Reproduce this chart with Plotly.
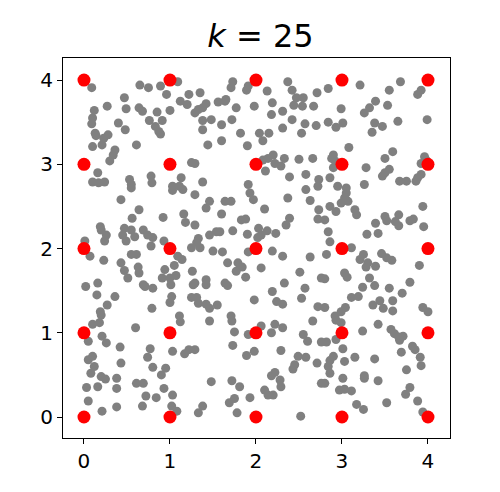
import plotly.graph_objects as go

# gray sample points
gray_x = [0.09,0.65,0.75,0.89,1.09,0.47,0.96,1.22,0.27,0.49,0.64,0.68,0.85,1.00,1.12,1.20,0.12,0.10,0.09,0.40,
          0.48,0.76,0.91,0.83,0.87,0.89,0.13,0.14,0.28,0.23,0.21,0.10,0.61,0.36,0.34,0.30,1.25,0.16,0.10,0.17,
          0.24,0.53,0.55,0.78,0.79,1.13,1.03,1.11,
          1.73,1.71,1.91,1.89,2.37,2.42,1.35,2.13,2.71,2.47,2.55,1.56,1.64,1.65,1.42,1.38,1.33,1.29,1.77,1.98,
          2.19,2.44,2.54,2.67,2.31,2.18,1.38,1.48,1.38,1.60,1.72,2.42,2.57,2.53,2.70,2.31,1.82,2.04,2.15,2.08,
          1.60,1.44,1.90,2.20,2.14,2.22,2.29,2.33,2.08,2.11,2.50,2.66,1.29,2.39,2.58,2.73,2.72,1.38,1.91,
          2.84,3.21,3.68,3.55,3.92,3.88,3.39,3.32,3.26,3.53,2.99,2.84,2.93,3.01,3.38,3.47,3.35,3.65,3.99,3.08,
          3.59,3.50,2.90,2.88,2.92,2.90,3.28,3.96,3.92,3.98,3.55,3.50,3.47,3.92,3.88,2.86,3.67,3.75,3.86,2.95,
          3.05,3.26,
          0.55,1.03,1.15,0.43,0.64,0.56,0.92,1.16,1.18,0.19,0.20,0.26,0.24,0.47,0.55,0.45,0.49,0.59,0.69,0.74,
          0.80,0.78,0.93,0.01,0.07,0.23,0.55,0.61,0.43,0.47,0.63,0.64,0.51,0.69,0.71,0.80,1.09,1.14,1.05,0.94,
          0.91,1.00,1.07,1.01,1.25,1.26,1.27,0.02,0.16,0.15,0.36,0.27,0.19,0.20,0.79,1.02,1.00,1.25,1.11,
          1.29,1.93,1.97,2.37,2.58,2.63,1.46,1.42,1.64,1.71,1.60,2.10,2.73,1.83,1.88,2.39,2.35,2.72,1.29,1.73,
          1.58,1.54,1.90,2.03,2.13,2.23,2.06,2.02,1.46,1.33,1.31,1.35,1.91,2.19,2.31,1.50,1.61,2.63,1.67,1.79,
          1.84,1.77,1.88,2.06,2.51,2.76,1.42,1.42,1.29,1.64,1.67,2.33,2.19,2.57,2.53,1.98,2.24,2.31,2.72,1.31,
          1.33,1.42,1.46,1.55,1.71,
          3.05,3.07,2.99,3.03,2.86,2.93,3.15,3.17,2.80,3.50,3.52,3.66,3.62,3.66,3.79,3.83,3.94,3.95,3.39,3.42,
          3.29,2.84,2.86,3.11,2.82,3.25,3.21,3.30,3.28,3.46,3.52,3.58,3.39,3.90,3.03,3.06,2.80,3.32,3.38,3.24,
          3.79,3.55,3.70,3.11,3.19,3.44,3.36,3.48,3.59,3.59,3.04,2.99,2.92,2.80,3.94,4.00,
          0.10,0.18,0.60,1.12,0.05,0.21,0.26,0.42,0.77,0.74,1.03,1.17,1.22,0.10,0.05,0.43,0.12,0.08,0.80,0.95,
          0.90,0.20,0.25,0.38,0.61,0.69,0.03,0.16,0.38,0.93,0.72,0.84,1.03,0.05,0.68,0.21,0.38,1.02,1.08,
          1.46,1.72,2.06,2.22,2.31,2.66,1.75,1.91,2.18,2.55,2.60,2.76,1.29,1.73,1.98,1.89,2.29,2.49,2.45,2.43,
          2.58,2.71,2.22,2.18,2.28,2.29,1.48,1.72,1.81,2.10,2.14,2.20,1.93,1.75,1.69,1.38,1.33,1.78,2.52,2.76,
          2.93,2.99,3.42,3.24,3.57,3.61,3.66,3.71,3.67,2.82,2.93,3.01,3.82,3.85,3.69,2.90,2.86,2.84,2.86,3.03,
          3.15,3.38,3.91,3.92,3.75,3.26,3.26,3.01,3.42,2.80,3.79,3.74,2.97,3.03,3.11,3.17,3.25,3.52,3.88,3.94]
gray_y = [3.91,3.94,3.91,3.93,3.98,3.79,3.83,3.83,3.69,3.66,3.67,3.63,3.62,3.64,3.75,3.71,3.64,3.55,3.48,3.49,
          3.41,3.52,3.52,3.45,3.39,3.36,3.37,3.34,3.35,3.31,3.23,3.21,3.23,3.17,3.11,3.04,3.02,2.90,2.79,2.78,
          2.79,2.82,2.76,2.86,2.78,2.84,2.74,2.74,
          3.98,3.91,3.93,3.88,3.98,3.88,3.85,3.87,3.85,3.79,3.79,3.74,3.75,3.77,3.72,3.67,3.65,3.61,3.67,3.69,
          3.73,3.70,3.69,3.69,3.63,3.59,3.52,3.53,3.41,3.47,3.53,3.53,3.48,3.37,3.46,3.43,3.37,3.37,3.37,3.28,
          3.28,3.23,3.22,3.11,3.07,3.01,2.98,3.07,3.05,2.92,3.06,3.07,3.01,2.85,2.88,2.82,2.74,2.79,2.76,
          3.90,3.94,3.98,3.88,3.88,3.83,3.75,3.67,3.61,3.70,3.66,3.50,3.44,3.49,3.49,3.45,3.38,3.51,3.53,3.20,
          3.15,3.07,3.11,3.07,3.04,2.96,2.96,3.09,3.01,3.05,2.94,2.90,2.86,2.88,2.84,2.84,2.80,2.80,2.80,2.74,
          2.72,2.76,
          2.72,2.69,2.70,2.58,2.46,2.36,2.37,2.41,2.31,2.26,2.22,2.16,2.09,2.24,2.22,2.16,2.09,2.14,2.22,2.16,
          2.13,2.03,2.09,2.09,1.91,1.86,1.93,1.93,1.83,1.74,1.78,1.71,1.65,1.57,1.55,1.53,1.91,1.87,1.80,1.75,
          1.65,1.65,1.68,1.57,2.01,1.73,1.57,1.55,1.59,1.45,1.43,1.33,1.25,1.21,1.29,1.43,1.36,1.42,1.20,
          2.64,2.66,2.58,2.60,2.70,2.57,2.56,2.48,2.56,2.56,2.41,2.47,2.46,2.34,2.35,2.36,2.28,2.35,2.28,2.21,
          2.20,2.20,2.17,2.24,2.21,2.18,2.16,2.13,2.16,2.12,2.07,2.01,1.96,1.97,1.91,1.97,1.96,1.90,1.83,1.83,
          1.78,1.73,1.66,1.77,1.72,1.65,1.63,1.57,1.59,1.59,1.56,1.59,1.49,1.53,1.41,1.39,1.37,1.34,1.31,1.42,
          1.35,1.34,1.29,1.33,1.20,
          2.66,2.56,2.54,2.60,2.50,2.44,2.46,2.40,2.34,2.38,2.33,2.40,2.32,2.27,2.33,2.35,2.50,2.26,2.30,2.18,
          2.17,2.20,2.08,2.01,1.93,1.93,1.87,1.83,1.78,1.94,1.89,1.86,1.79,1.80,1.71,1.66,1.64,1.65,1.56,1.54,
          1.60,1.53,1.47,1.42,1.43,1.38,1.33,1.29,1.38,1.26,1.30,1.25,1.20,1.30,1.30,1.25,
          1.10,1.12,1.06,1.13,0.90,0.96,0.88,0.83,0.81,0.71,0.78,0.75,0.80,0.72,0.68,0.64,0.60,0.52,0.59,0.58,
          0.50,0.48,0.45,0.46,0.40,0.40,0.35,0.36,0.34,0.34,0.25,0.23,0.26,0.19,0.13,0.07,0.12,0.13,0.07,
          1.14,1.14,1.08,1.10,1.06,1.14,1.01,0.98,1.00,0.98,0.90,0.89,0.80,0.85,0.78,0.73,0.79,0.72,0.62,0.57,
          0.71,0.64,0.53,0.49,0.44,0.36,0.42,0.43,0.36,0.32,0.26,0.26,0.23,0.22,0.17,0.13,0.05,0.05,0.01,0.40,
          1.15,1.12,1.10,1.02,1.04,0.99,0.95,0.96,0.91,0.89,0.92,0.81,0.84,0.80,0.77,0.72,0.67,0.60,0.52,0.66,
          0.71,0.69,0.71,0.61,0.56,0.49,0.46,0.46,0.43,0.40,0.35,0.27,0.32,0.33,0.31,0.15,0.09,0.17,0.19,0.06]

# red grid points (k = 25)
grid_vals = [0, 1, 2, 3, 4]
red_x = [gx for gy in grid_vals for gx in grid_vals]
red_y = [gy for gy in grid_vals for gx in grid_vals]
tick_vals = [0, 1, 2, 3, 4]
tick_text = ["0", "1", "2", "3", "4"]

fig = go.Figure()
fig.add_trace(go.Scatter(x=gray_x, y=gray_y, mode="markers",
                         marker=dict(color="#808080", size=9, line=dict(width=0)),
                         hoverinfo="skip", showlegend=False))
fig.add_trace(go.Scatter(x=red_x, y=red_y, mode="markers",
                         marker=dict(color="#ff0000", size=13, line=dict(width=0)),
                         hoverinfo="skip", showlegend=False))

axis_common = dict(showgrid=False, zeroline=False, showline=True, mirror=True,
                   linecolor="black", linewidth=1, ticks="outside", ticklen=5,
                   tickwidth=1, tickcolor="black", tickvals=tick_vals, ticktext=tick_text,
                   tickfont=dict(family="DejaVu Sans", size=20, color="black"))
fig.update_xaxes(range=[-0.244, 4.256], **axis_common)
fig.update_yaxes(range=[-0.249, 4.262], **axis_common)

fig.update_layout(
    width=500, height=492,
    margin=dict(l=55, r=58, t=50, b=62),
    plot_bgcolor="white", paper_bgcolor="white",
    title=dict(text="<i>k</i> = 25", x=0.505, xanchor="center", y=0.943, yanchor="middle",
               yref="container", font=dict(family="DejaVu Sans", size=32, color="black")),
)

fig.write_html("out.html")
